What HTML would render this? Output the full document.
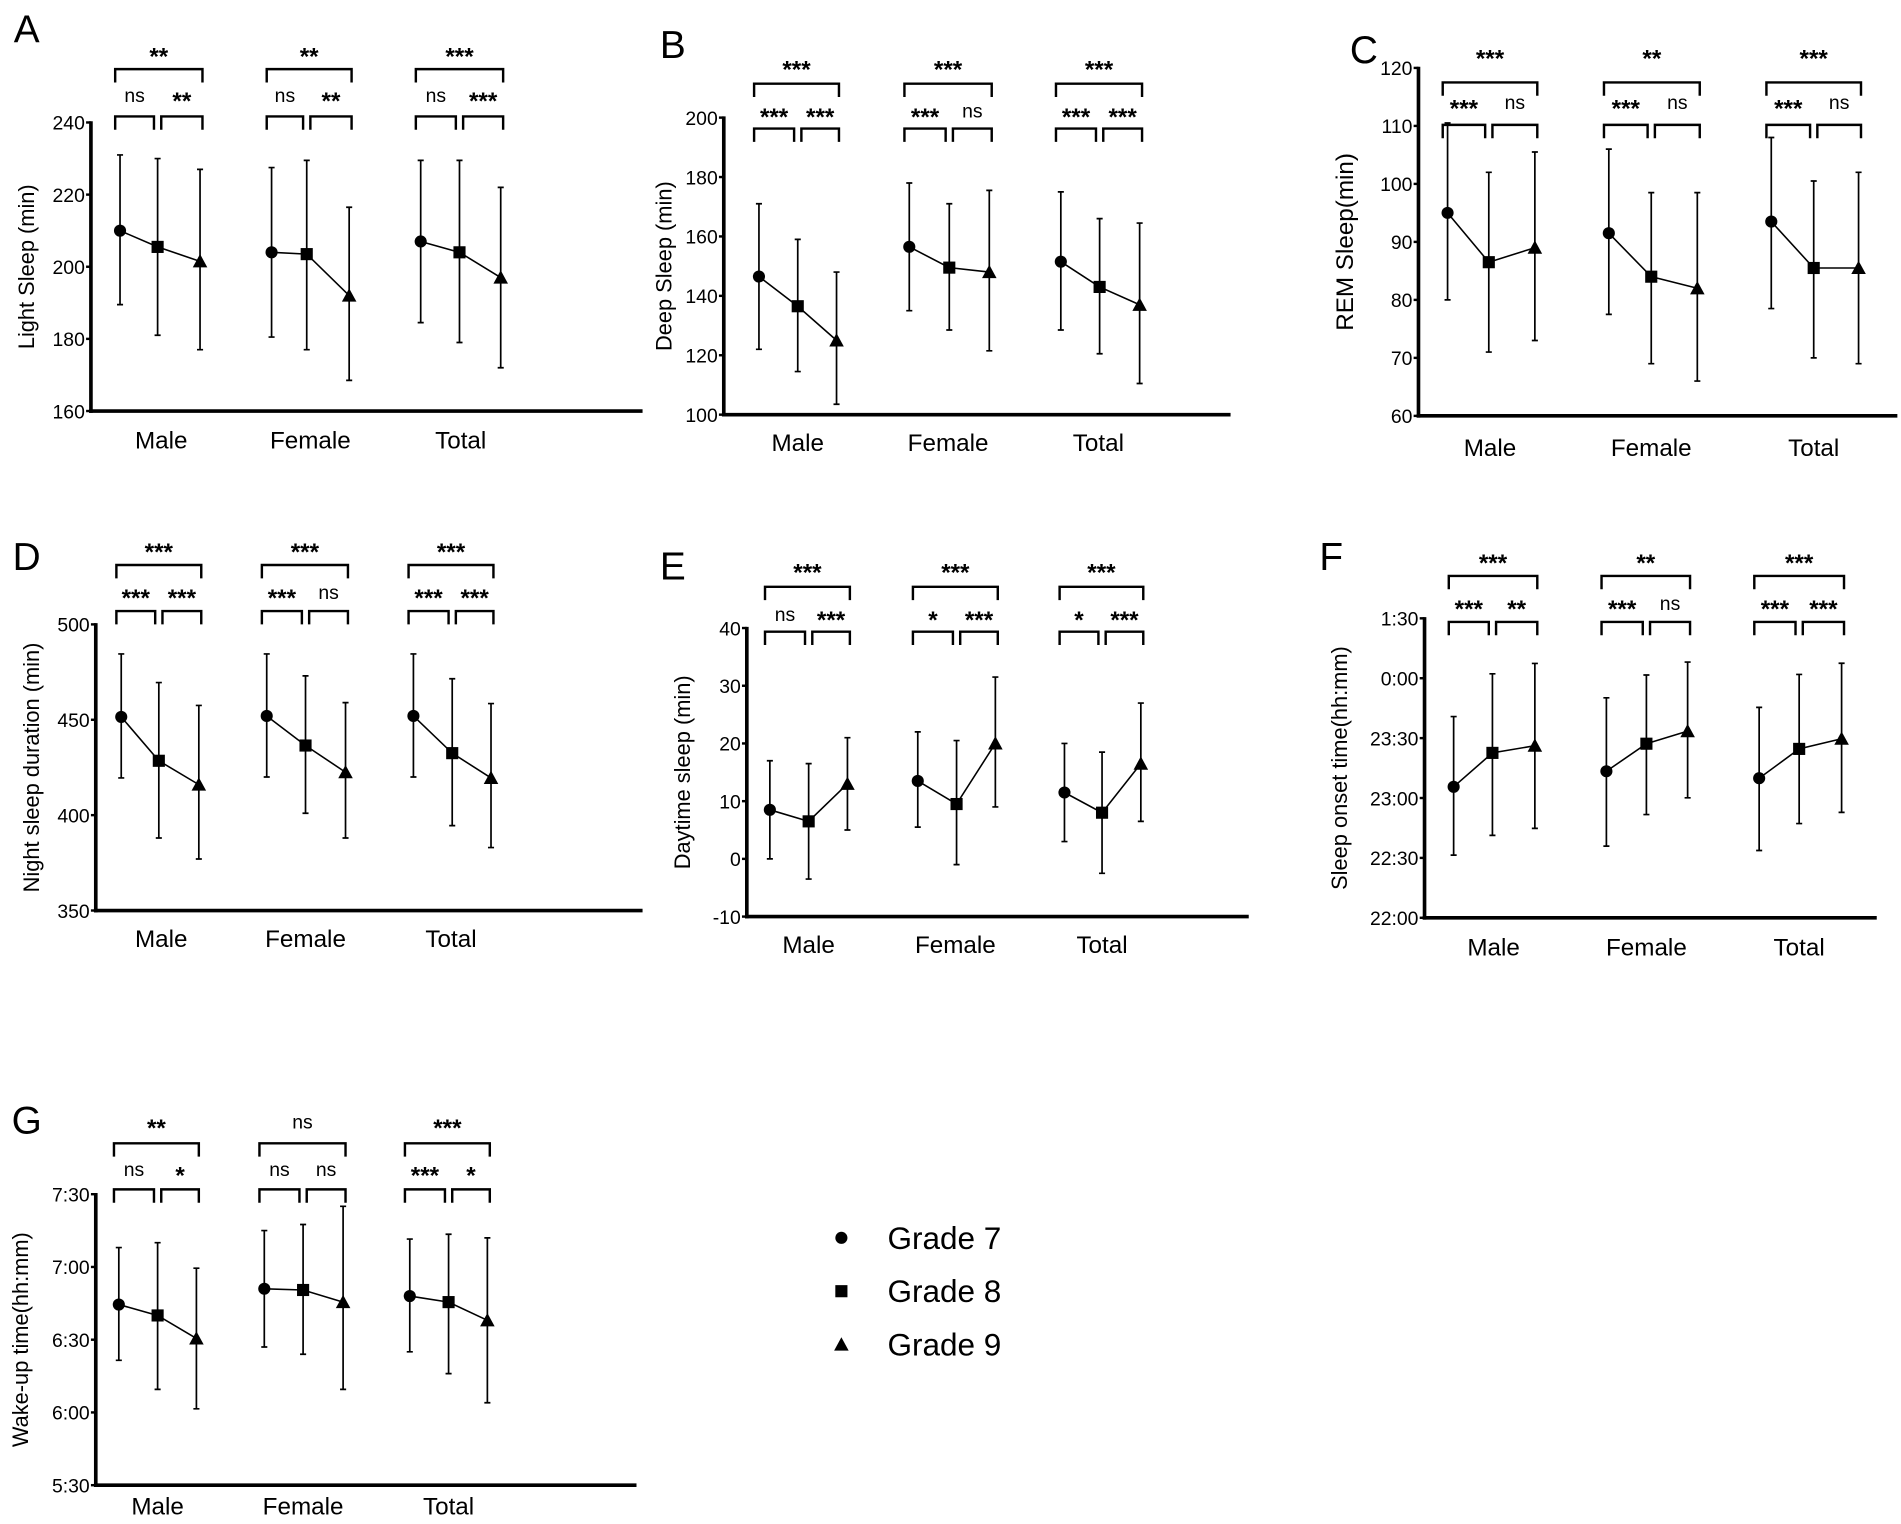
<!DOCTYPE html>
<html><head><meta charset="utf-8"><style>
html,body{margin:0;padding:0;background:#fff}
svg{display:block}
text{font-family:"Liberation Sans",Arial,sans-serif;fill:#000}
</style></head><body>
<svg id="fig" width="1901" height="1524" viewBox="0 0 1568 1257" xmlns="http://www.w3.org/2000/svg"></svg>
<script>
const categories = ["Male","Female","Total"];
const grades = ["Grade 7","Grade 8","Grade 9"];
// Panel A: light sleep
const lightMean = [[210,205.5,201.5],[204,203.5,192],[207,204,197]];
const lightLow  = [[189.5,181,177],[180.5,177,168.5],[184.5,179,172]];
const lightHigh = [[231,230,227],[227.5,229.5,216.5],[229.5,229.5,222]];
const lightTicks = [160,180,200,220,240];
const lightSig = [["ns","**","**"],["ns","**","**"],["ns","***","***"]];
// Panel B: deep sleep
const deepMean = [[146.5,136.5,125],[156.5,149.5,148],[151.5,143,137]];
const deepLow  = [[122,114.5,103.5],[135,128.5,121.5],[128.5,120.5,110.5]];
const deepHigh = [[171,159,148],[178,171,175.5],[175,166,164.5]];
const deepTicks = [100,120,140,160,180,200];
const deepSig = [["***","***","***"],["***","ns","***"],["***","***","***"]];
// Panel C: REM sleep
const remMean = [[95,86.5,89],[91.5,84,82],[93.5,85.5,85.5]];
const remLow  = [[80,71,73],[77.5,69,66],[78.5,70,69]];
const remHigh = [[110.5,102,105.5],[106,98.5,98.5],[108,100.5,102]];
const remTicks = [60,70,80,90,100,110,120];
const remSig = [["***","ns","***"],["***","ns","**"],["***","ns","***"]];
// Panel D: night sleep duration
const nightMean = [[451.5,428.5,416],[452,436.5,422.5],[452,432.5,419.5]];
const nightLow  = [[419.5,388,377],[420,401,388],[420,394.5,383]];
const nightHigh = [[484.5,469.5,457.5],[484.5,473,459],[484.5,471.5,458.5]];
const nightTicks = [350,400,450,500];
const nightSig = [["***","***","***"],["***","ns","***"],["***","***","***"]];
// Panel E: daytime sleep
const dayMean = [[8.5,6.5,13],[13.5,9.5,20],[11.5,8,16.5]];
const dayLow  = [[0,-3.5,5],[5.5,-1,9],[3,-2.5,6.5]];
const dayHigh = [[17,16.5,21],[22,20.5,31.5],[20,18.5,27]];
const dayTicks = [-10,0,10,20,30,40];
const daySig = [["ns","***","***"],["*","***","***"],["*","***","***"]];
// Panel F: sleep onset, minutes after 22:00
const onsetMean = [[65.6,82.6,86.2],[73.4,87.2,93.5],[69.9,84.6,89.7]];
const onsetLow  = [[31.4,41.3,44.8],[35.9,51.7,60.1],[33.7,47.2,52.8]];
const onsetHigh = [[100.8,122.2,127.4],[110.2,121.6,128.1],[105.4,121.9,127.5]];
const onsetTicks = [0,30,60,90,120,150];
const onsetTickLabels = ["22:00","22:30","23:00","23:30","0:00","1:30"];
const onsetSig = [["***","**","***"],["***","ns","**"],["***","***","***"]];
// Panel G: wake-up, minutes after 5:30
const wakeMean = [[74.5,70,60.5],[81,80.5,75.5],[78,75.5,68]];
const wakeLow  = [[51.5,39.5,31.5],[57,54,39.5],[55,46,34]];
const wakeHigh = [[98,100,89.5],[105,107.5,115],[101.5,103.5,102]];
const wakeTicks = [0,30,60,90,120];
const wakeTickLabels = ["5:30","6:00","6:30","7:00","7:30"];
const wakeSig = [["ns","*","**"],["ns","ns","ns"],["***","*","***"]];

const NS="http://www.w3.org/2000/svg";
const svg=document.getElementById('fig');
function el(tag,attrs,parent){const e=document.createElementNS(NS,tag);for(const k in attrs)e.setAttribute(k,attrs[k]);(parent||svg).appendChild(e);return e;}
function txt(s,attrs,parent){const t=el('text',attrs,parent);t.textContent=s;return t;}

const panels=[
 {id:'a',letter:'A',lx:22,ly:35,ax:75,yTop:101,yBot:339,xEnd:530,ticks:lightTicks,tl:null,vmin:160,vmax:240,mean:lightMean,low:lightLow,high:lightHigh,sig:lightSig,
  gx:[[99,130,165],[224,253,288],[347,379,413]],catX:[133,256,380],catY:363,title:"Light Sleep (min)",tx:22,tfs:18,lowB:96,upB:57,lowL:78,upL:41},
 {id:'b',letter:'B',lx:555,ly:48,ax:597,yTop:97,yBot:342,xEnd:1015,ticks:deepTicks,tl:null,vmin:100,vmax:200,mean:deepMean,low:deepLow,high:deepHigh,sig:deepSig,
  gx:[[626,658,690],[750,783,816],[875,907,940]],catX:[658,782,906],catY:365,title:"Deep Sleep (min)",tx:548,tfs:18,lowB:106,upB:69,lowL:91,upL:52},
 {id:'c',letter:'C',lx:1125,ly:52,ax:1170,yTop:56,yBot:343,xEnd:1565,ticks:remTicks,tl:null,vmin:60,vmax:120,mean:remMean,low:remLow,high:remHigh,sig:remSig,
  gx:[[1194,1228,1266],[1327,1362,1400],[1461,1496,1533]],catX:[1229,1362,1496],catY:369,title:"REM Sleep(min)",tx:1110,tfs:20,lowB:103,upB:68,lowL:84,upL:43},
 {id:'d',letter:'D',lx:22,ly:470,ax:79,yTop:515,yBot:751,xEnd:530,ticks:nightTicks,tl:null,vmin:350,vmax:500,mean:nightMean,low:nightLow,high:nightHigh,sig:nightSig,
  gx:[[100,131,164],[220,252,285],[341,373,405]],catX:[133,252,372],catY:774,title:"Night sleep duration (min)",tx:26,tfs:18,lowB:504,upB:466,lowL:488,upL:450},
 {id:'e',letter:'E',lx:555,ly:478,ax:616,yTop:518,yBot:756,xEnd:1030,ticks:dayTicks,tl:null,vmin:-10,vmax:40,mean:dayMean,low:dayLow,high:dayHigh,sig:daySig,
  gx:[[635,667,699],[757,789,821],[878,909,941]],catX:[667,788,909],catY:779,title:"Daytime sleep (min)",tx:563,tfs:18,lowB:521,upB:484,lowL:506,upL:467},
 {id:'f',letter:'F',lx:1098,ly:470,ax:1175,yTop:510,yBot:757,xEnd:1548,ticks:onsetTicks,tl:onsetTickLabels,vmin:0,vmax:150,mean:onsetMean,low:onsetLow,high:onsetHigh,sig:onsetSig,
  gx:[[1199,1231,1266],[1325,1358,1392],[1451,1484,1519]],catX:[1232,1358,1484],catY:781,title:"Sleep onset time(hh:mm)",tx:1105,tfs:18,lowB:513,upB:475,lowL:497,upL:459},
 {id:'g',letter:'G',lx:22,ly:935,ax:79,yTop:985,yBot:1225,xEnd:525,ticks:wakeTicks,tl:wakeTickLabels,vmin:0,vmax:120,mean:wakeMean,low:wakeLow,high:wakeHigh,sig:wakeSig,
  gx:[[98,130,162],[218,250,283],[338,370,402]],catX:[130,250,370],catY:1242,title:"Wake-up time(hh:mm)",tx:17,tfs:18,lowB:981,upB:943,lowL:964,upL:925}
];

function marker(g,k,x,y){
  let m;
  if(k===0){m=el('circle',{cx:x,cy:y,r:5},g);}
  else if(k===1){m=el('rect',{x:x-5,y:y-5,width:10,height:10},g);}
  else {m=el('polygon',{points:`${x},${y-6} ${x-6},${y+5} ${x+6},${y+5}`},g);}
  m.setAttribute('fill','#000');
  return m;
}

panels.forEach(p=>{
  const g=el('g',{});
  
  
  const y=v=>p.yBot-(v-p.vmin)/(p.vmax-p.vmin)*(p.yBot-p.yTop);
  const L=txt(p.letter,{x:p.lx,y:p.ly,'font-size':32,'text-anchor':'middle'},g);
  
  
  const ya=el('line',{x1:p.ax,y1:p.yTop-1,x2:p.ax,y2:p.yBot+1.5,stroke:'#000','stroke-width':3},g);
  
  
  const xa=el('line',{x1:p.ax-1.5,y1:p.yBot,x2:p.xEnd,y2:p.yBot,stroke:'#000','stroke-width':3},g);
  
  
  p.ticks.forEach((t,i)=>{
    el('line',{x1:p.ax-4,y1:y(t),x2:p.ax,y2:y(t),stroke:'#000','stroke-width':2},g);
    const tt=txt(p.tl?p.tl[i]:String(t),{x:p.ax-5,y:y(t)+6,'font-size':16,'text-anchor':'end'},g);
    
    
  });
  const ty=(p.yTop+p.yBot)/2;
  const yt=txt(p.title,{x:p.tx,y:ty,'font-size':p.tfs,'text-anchor':'middle',transform:`rotate(-90 ${p.tx} ${ty})`,dy:6},g);
  
  
  categories.forEach((c,ci)=>{
    const ct=txt(c,{x:p.catX[ci],y:p.catY+7,'font-size':20,'text-anchor':'middle'},g);
    
    
    const xs=p.gx[ci];
    const pts=xs.map((x,k)=>x+','+y(p.mean[ci][k])).join(' ');
    const ln=el('polyline',{points:pts,fill:'none',stroke:'#000','stroke-width':1.3},g);
    
    
    xs.forEach((x,k)=>{
      const hi=y(p.high[ci][k]),lo=y(p.low[ci][k]);
      const eb=el('path',{d:`M${x},${hi}V${lo}M${x-2.5},${hi}H${x+2.5}M${x-2.5},${lo}H${x+2.5}`,stroke:'#000','stroke-width':1.4,fill:'none'},g);
      
      
      const m=marker(g,k,x,y(p.mean[ci][k]));
      
      
    });
    const mid=xs[1];
    const l1=xs[0]-4,r1=mid-3,l2=mid+3,r2=xs[2]+2;
    const bs=[[l1,r1,p.lowB],[l2,r2,p.lowB],[l1,r2,p.upB]];
    bs.forEach((b,bi)=>{
      const br=el('path',{d:`M${b[0]},${b[2]+11}V${b[2]}H${b[1]}V${b[2]+11}`,stroke:'#000','stroke-width':2,fill:'none'},g);
      
      
      const s=p.sig[ci][bi];
      const isNs=s==='ns';
      const st=txt(s,{x:(b[0]+b[1])/2,y:(bi<2?p.lowL:p.upL)+(isNs?6:12),'font-size':isNs?16:20,'font-weight':isNs?'normal':'bold','text-anchor':'middle'},g);
      
      
    });
  });
});

const lg=el('g',{});


grades.forEach((gname,k)=>{
  const yy=1021+44*k;
  const m=marker(lg,k,694,yy);
  
  
  const t=txt(gname,{x:732,y:yy+9,'font-size':26},lg);
  
  
});
</script>
</body></html>
